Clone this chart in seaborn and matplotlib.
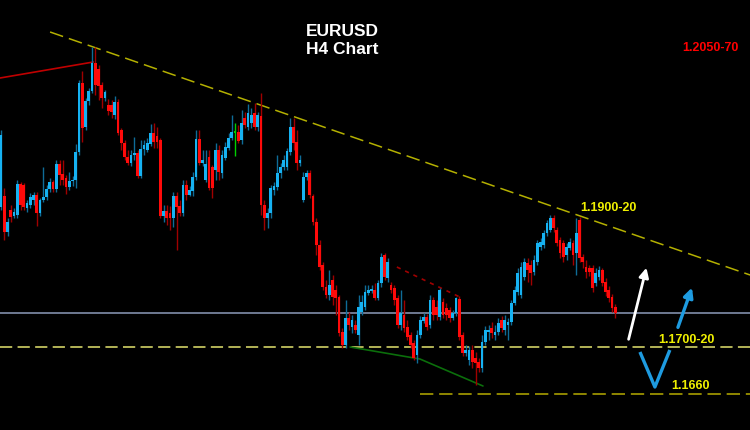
"""EURUSD H4 candlestick chart with trend lines and levels (black MT4-like style)."""

import matplotlib

matplotlib.use("Agg")
import matplotlib.pyplot as plt
import numpy as np
import pandas as pd
import seaborn as sns

# OHLC values as the last four digits of the price (price = 1 + v / 10000)
opens = [1793, 1804, 1768, 1790, 1784, 1785, 1816, 1815, 1792, 1795, 1800, 1805, 1787, 1800, 1803, 1811, 1818, 1811, 1836, 1826,
         1822, 1813, 1819, 1820, 1848, 1917, 1873, 1899, 1909, 1937, 1931, 1915, 1902, 1895, 1895, 1885, 1898, 1870, 1857, 1843,
         1837, 1845, 1847, 1824, 1851, 1850, 1856, 1867, 1864, 1860, 1784, 1789, 1787, 1782, 1804, 1794, 1787, 1815, 1805, 1809,
         1823, 1861, 1837, 1820, 1843, 1833, 1830, 1850, 1827, 1842, 1852, 1862, 1867, 1868, 1860, 1882, 1873, 1877, 1887, 1873,
         1884, 1795, 1782, 1787, 1810, 1813, 1827, 1833, 1833, 1848, 1873, 1858, 1837, 1800, 1823, 1827, 1804, 1778, 1755, 1735,
         1713, 1705, 1720, 1710, 1703, 1668, 1655, 1682, 1673, 1675, 1665, 1688, 1693, 1707, 1709, 1710, 1702, 1717, 1745, 1722,
         1715, 1712, 1702, 1675, 1685, 1673, 1665, 1657, 1645, 1665, 1679, 1683, 1675, 1700, 1693, 1683, 1698, 1692, 1690, 1682,
         1687, 1701, 1665, 1647, 1640, 1650, 1642, 1638, 1632, 1658, 1668, 1672, 1665, 1668, 1680, 1670, 1675, 1678, 1697, 1708,
         1705, 1723, 1737, 1735, 1728, 1738, 1753, 1755, 1767, 1770, 1782, 1770, 1760, 1757, 1745, 1752, 1757, 1747, 1780, 1743,
         1733, 1732, 1732, 1717, 1723, 1730, 1718, 1710, 1703, 1693]
closes = [1865, 1768, 1778, 1783, 1788, 1816, 1795, 1793, 1797, 1803, 1805, 1787, 1800, 1803, 1811, 1818, 1811, 1836, 1825, 1820,
          1813, 1819, 1820, 1848, 1917, 1872, 1899, 1909, 1937, 1915, 1914, 1902, 1908, 1889, 1888, 1898, 1867, 1857, 1843, 1837,
          1845, 1847, 1824, 1851, 1855, 1857, 1867, 1858, 1858, 1784, 1789, 1782, 1782, 1804, 1793, 1787, 1815, 1805, 1810, 1823,
          1861, 1837, 1840, 1836, 1812, 1812, 1850, 1828, 1845, 1853, 1862, 1868, 1867, 1859, 1877, 1875, 1887, 1885, 1873, 1885,
          1795, 1782, 1787, 1812, 1814, 1827, 1833, 1840, 1849, 1873, 1857, 1837, 1840, 1823, 1827, 1805, 1778, 1755, 1733, 1713,
          1705, 1715, 1703, 1702, 1667, 1655, 1682, 1675, 1680, 1670, 1693, 1698, 1708, 1710, 1711, 1702, 1717, 1743, 1723, 1738,
          1710, 1700, 1675, 1687, 1672, 1663, 1655, 1642, 1665, 1680, 1683, 1673, 1700, 1685, 1685, 1710, 1685, 1685, 1682, 1687,
          1702, 1663, 1647, 1650, 1650, 1638, 1637, 1632, 1658, 1670, 1670, 1667, 1668, 1677, 1672, 1680, 1678, 1697, 1710, 1727,
          1733, 1738, 1730, 1727, 1740, 1757, 1758, 1767, 1777, 1782, 1772, 1757, 1747, 1743, 1753, 1758, 1745, 1767, 1742, 1738,
          1728, 1728, 1712, 1727, 1730, 1717, 1708, 1702, 1692, 1687]
highs = [1870, 1812, 1782, 1795, 1792, 1820, 1818, 1817, 1800, 1807, 1808, 1808, 1802, 1833, 1815, 1822, 1820, 1840, 1840, 1840,
         1825, 1828, 1824, 1856, 1920, 1929, 1902, 1912, 1953, 1953, 1935, 1918, 1910, 1901, 1900, 1904, 1901, 1872, 1860, 1850,
         1850, 1863, 1850, 1860, 1860, 1862, 1876, 1877, 1873, 1862, 1795, 1795, 1794, 1808, 1808, 1800, 1820, 1820, 1814, 1828,
         1870, 1870, 1850, 1850, 1850, 1835, 1857, 1855, 1850, 1858, 1867, 1885, 1877, 1875, 1890, 1888, 1896, 1892, 1897, 1888,
         1907, 1800, 1792, 1815, 1818, 1845, 1837, 1845, 1852, 1882, 1882, 1870, 1845, 1828, 1830, 1830, 1806, 1782, 1760, 1738,
         1720, 1730, 1725, 1715, 1705, 1672, 1700, 1688, 1685, 1680, 1705, 1705, 1715, 1715, 1715, 1717, 1720, 1747, 1747, 1742,
         1718, 1715, 1705, 1710, 1700, 1680, 1668, 1660, 1670, 1684, 1687, 1686, 1705, 1703, 1700, 1712, 1702, 1697, 1693, 1690,
         1703, 1704, 1668, 1655, 1654, 1655, 1648, 1642, 1665, 1674, 1675, 1678, 1675, 1682, 1684, 1685, 1682, 1700, 1714, 1732,
         1738, 1742, 1742, 1740, 1745, 1760, 1762, 1770, 1780, 1785, 1785, 1773, 1763, 1760, 1757, 1762, 1760, 1782, 1783, 1746,
         1740, 1735, 1735, 1732, 1734, 1732, 1722, 1714, 1706, 1696]
lows = [1790, 1760, 1764, 1778, 1782, 1782, 1790, 1790, 1788, 1792, 1795, 1774, 1784, 1798, 1800, 1808, 1808, 1808, 1815, 1815,
        1806, 1810, 1814, 1812, 1845, 1858, 1870, 1895, 1907, 1905, 1900, 1892, 1899, 1885, 1882, 1881, 1865, 1850, 1840, 1835,
        1834, 1840, 1822, 1822, 1845, 1848, 1854, 1852, 1852, 1782, 1778, 1775, 1770, 1773, 1750, 1784, 1784, 1800, 1804, 1804,
        1820, 1835, 1834, 1818, 1810, 1802, 1820, 1820, 1822, 1840, 1850, 1860, 1844, 1857, 1856, 1872, 1870, 1872, 1870, 1869,
        1785, 1770, 1772, 1782, 1805, 1810, 1822, 1830, 1830, 1845, 1850, 1830, 1834, 1798, 1820, 1802, 1775, 1745, 1730, 1710,
        1702, 1700, 1695, 1685, 1664, 1652, 1652, 1670, 1667, 1667, 1655, 1685, 1690, 1705, 1707, 1700, 1700, 1713, 1720, 1718,
        1707, 1695, 1672, 1670, 1668, 1660, 1652, 1640, 1637, 1662, 1677, 1670, 1672, 1680, 1680, 1680, 1682, 1680, 1678, 1680,
        1684, 1660, 1644, 1644, 1635, 1632, 1615, 1628, 1628, 1655, 1660, 1662, 1660, 1665, 1668, 1665, 1660, 1675, 1695, 1705,
        1702, 1720, 1718, 1715, 1725, 1735, 1750, 1752, 1764, 1768, 1768, 1754, 1742, 1738, 1740, 1750, 1735, 1725, 1738, 1732,
        1722, 1724, 1708, 1714, 1720, 1714, 1704, 1698, 1688, 1682]

# drawn objects, in (candle index, price digits)
trend_idx, trend_px = [15.1, 230.5], [1968, 1725]
red_line_idx, red_line_px = [-0.3, 28.4], [1922, 1938]
red_dot_idx, red_dot_px = [121.8, 141.8], [1733, 1702]
green_idx, green_px = [107.4, 128.9, 148.3], [1653, 1641, 1614]
gray_level, support_level, low_level = 1687, 1653, 1606
low_level_start = 128.9
white_arrow = ([192.9, 198.8], [1658, 1735])
blue_v_idx, blue_v_px = [196.6, 201.2, 205.8], [1648, 1613, 1650]
blue_arrow = ([208.0, 212.9], [1670, 1715])


def price(v):
    return 1 + np.asarray(v, dtype=float) / 10000


sns.set_theme(style="dark", rc={"axes.facecolor": "black", "figure.facecolor": "black"})
plt.rcParams["font.family"] = ["Liberation Sans", "DejaVu Sans"]

df = pd.DataFrame({"open": price(opens), "high": price(highs), "low": price(lows), "close": price(closes)})
df["idx"] = np.arange(len(df))
up = df["close"] > df["open"]
down = df["close"] < df["open"]
flat = ~(up | down)

fig = plt.figure(figsize=(7.5, 4.3), dpi=100)
ax = fig.add_axes([0, 0, 1, 1])
ax.set_facecolor("black")

# horizontal levels
ax.axhline(price(gray_level), color="#6f7a92", lw=1.4, zorder=1)
ax.axhline(price(support_level), color="#e4e46e", lw=1.1, dashes=(8, 3.5), zorder=1)
ax.plot([low_level_start, 240], price([low_level, low_level]), color="#a89e00", lw=1.2, dashes=(8, 3.5), zorder=1)

# trend lines
sns.lineplot(x=trend_idx, y=price(trend_px), ax=ax, color="#b4b000", lw=1.1, sort=False, zorder=1)
ax.lines[-1].set_dashes((9, 4))
ax.plot(red_line_idx, price(red_line_px), color="#c00000", lw=1.2, zorder=1)
ax.plot(red_dot_idx, price(red_dot_px), color="#a00000", lw=1.2, dashes=(2.5, 3), zorder=1)
ax.plot(green_idx, price(green_px), color="#0b6e0b", lw=1.2, zorder=1)

# candles
for mask, body_col, wick_col in [(up, "#16b2f2", "#0f6c98"), (down, "#ff0a0a", "#a00000"), (flat, "#00d000", "#00d000")]:
    d = df[mask]
    ax.vlines(d["idx"], d["low"], d["high"], color=wick_col, lw=1.0, zorder=2)
    ax.bar(d["idx"], (d["close"] - d["open"]).abs().clip(lower=0.00015), bottom=d[["open", "close"]].min(axis=1),
           width=0.9, color=body_col, linewidth=0, zorder=3)

# arrows
ax.annotate("", xy=(white_arrow[0][1], price(white_arrow[1][1])), xytext=(white_arrow[0][0], price(white_arrow[1][0])),
            arrowprops=dict(arrowstyle="-|>", color="white", lw=2, mutation_scale=14), zorder=4)
ax.plot(blue_v_idx, price(blue_v_px), color="#1e9be0", lw=2.4, solid_capstyle="butt", zorder=4)
ax.annotate("", xy=(blue_arrow[0][1], price(blue_arrow[1][1])), xytext=(blue_arrow[0][0], price(blue_arrow[1][0])),
            arrowprops=dict(arrowstyle="-|>", color="#1e9be0", lw=2.4, mutation_scale=14), zorder=4)

# texts
ax.text(342 / 750, 1 - 32 / 430, "EURUSD", color="white", fontsize=12.5, fontweight="bold", ha="center", va="center",
        transform=ax.transAxes)
ax.text(342 / 750, 1 - 50 / 430, "H4 Chart", color="white", fontsize=12.5, fontweight="bold", ha="center", va="center",
        transform=ax.transAxes)
ax.text(710 / 750, 1 - 48 / 430, "1.2050-70", color="#ff0000", fontsize=9, fontweight="bold", ha="center", va="center",
        transform=ax.transAxes)
ax.text(608 / 750, 1 - 208 / 430, "1.1900-20", color="#f0f000", fontsize=9, fontweight="bold", ha="center", va="center",
        transform=ax.transAxes)
ax.text(686 / 750, 1 - 340 / 430, "1.1700-20", color="#f0f000", fontsize=9, fontweight="bold", ha="center", va="center",
        transform=ax.transAxes)
ax.text(690 / 750, 1 - 386 / 430, "1.1660", color="#f0f000", fontsize=9, fontweight="bold", ha="center", va="center",
        transform=ax.transAxes)

ax.set_xlim(-0.31, 230.46)
ax.set_ylim(1.1570, 1.2000)
ax.set_xticks([])
ax.set_yticks([])
ax.grid(False)
for s in ax.spines.values():
    s.set_visible(False)

fig.savefig("out.png", dpi=100, facecolor="black")
